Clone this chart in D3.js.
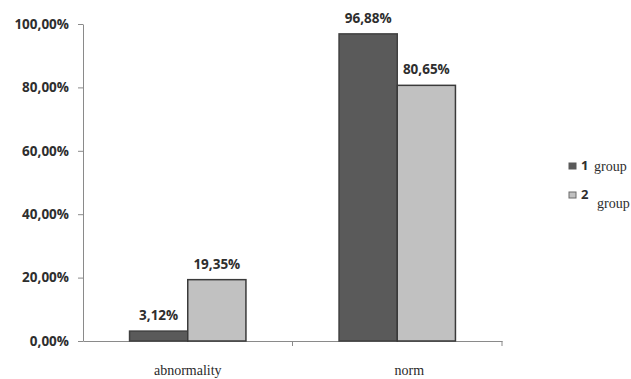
<!DOCTYPE html>
<html>
<head>
<meta charset="utf-8">
<script src="https://cdn.jsdelivr.net/npm/d3@7"></script>
<style>
  html, body { margin: 0; padding: 0; background: #fff; }
  svg { display: block; }
</style>
</head>
<body>
<svg id="chart" width="631" height="379"></svg>
<script>
// Share of children per group in each category (percent)
const categories = ["abnormality", "norm"];
const seriesNames = ["1 group", "2 group"];
const group1 = [3.12, 96.88];
const group2 = [19.35, 80.65];
const yTicks = [0, 20, 40, 60, 80, 100];

const seriesValues = [group1, group2];
const fills = ["#5a5a5a", "#c1c1c1"];
const strokes = ["#404040", "#3a3a3a"];

const svg = d3.select("#chart");
const margin = { left: 83, right: 129, top: 24, bottom: 38 };
const W = 631, H = 379;

const x0 = d3.scaleBand()
  .domain(categories)
  .range([margin.left, W - margin.right])
  .padding(0);

const x1 = d3.scaleBand()
  .domain(d3.range(seriesNames.length))
  .range([0, x0.bandwidth()])
  .paddingInner(0)
  .paddingOuter(0.8);

const y = d3.scaleLinear()
  .domain([0, 100])
  .range([H - margin.bottom, margin.top]);

const fmt = v => v.toFixed(2).replace(".", ",") + "%";
const labelFont = "'Open Sans', sans-serif";
const serifFont = "'Liberation Serif', 'DejaVu Serif', serif";

// Y axis
const yAxis = svg.append("g")
  .attr("transform", `translate(${margin.left},0)`)
  .call(d3.axisLeft(y).tickValues(yTicks).tickSize(5).tickSizeOuter(0).tickFormat(fmt));
yAxis.select(".domain").attr("stroke", "#8a8a8a");
yAxis.selectAll(".tick line").attr("stroke", "#8a8a8a");
yAxis.selectAll(".tick text")
  .attr("x", -14)
  .attr("fill", "#2e2e2e")
  .style("font-family", labelFont)
  .style("font-weight", "bold")
  .style("font-size", "13.5px");

// X axis baseline
const xAxis = svg.append("g")
  .attr("transform", `translate(0,${y(0)})`)
  .call(d3.axisBottom(x0).tickSize(0).tickFormat(""));
xAxis.select(".domain").attr("stroke", "#8a8a8a");
xAxis.selectAll(".tick").remove();

// category separators below the baseline
const edges = categories.slice(1).map(c => x0(c))
  .concat([x0(categories[categories.length - 1]) + x0.bandwidth()]);
svg.append("g").selectAll("line")
  .data(edges)
  .join("line")
  .attr("x1", d => d)
  .attr("x2", d => d)
  .attr("y1", y(0))
  .attr("y2", y(0) + 5)
  .attr("stroke", "#8a8a8a");

// category labels (the short last label sits a little right of its band centre)
const labelShift = [0, 12];
svg.append("g").selectAll("text")
  .data(categories)
  .join("text")
  .attr("x", (d, i) => x0(d) + x0.bandwidth() / 2 + labelShift[i])
  .attr("y", y(0) + 34)
  .attr("text-anchor", "middle")
  .attr("fill", "#2a2a2a")
  .style("font-family", serifFont)
  .style("font-size", "14px")
  .text(d => d);

// bars
const groups = svg.append("g").selectAll("g")
  .data(categories)
  .join("g")
  .attr("transform", d => `translate(${x0(d)},0)`);

groups.selectAll("rect")
  .data((d, ci) => seriesValues.map((s, si) => ({ si, v: s[ci] })))
  .join("rect")
  .attr("x", d => x1(d.si))
  .attr("width", x1.bandwidth())
  .attr("y", d => y(d.v))
  .attr("height", d => y(0) - y(d.v))
  .attr("fill", d => fills[d.si])
  .attr("stroke", d => strokes[d.si])
  .attr("stroke-width", 1.5);

// value labels
groups.selectAll("text")
  .data((d, ci) => seriesValues.map((s, si) => ({ si, v: s[ci] })))
  .join("text")
  .attr("x", d => x1(d.si) + x1.bandwidth() / 2)
  .attr("y", d => y(d.v) - 11)
  .attr("text-anchor", "middle")
  .attr("fill", "#2e2e2e")
  .style("font-family", labelFont)
  .style("font-weight", "bold")
  .style("font-size", "13.5px")
  .text(d => fmt(d.v));

// legend
const legend = svg.append("g").attr("transform", "translate(569,163)");
const items = legend.selectAll("g")
  .data(seriesNames)
  .join("g")
  .attr("transform", (d, i) => `translate(0,${i * 29})`);

items.append("rect")
  .attr("width", 7)
  .attr("height", 6)
  .attr("fill", (d, i) => fills[i])
  .attr("stroke", (d, i) => i === 0 ? fills[0] : "#6a6a6a")
  .attr("stroke-width", 1);

items.append("text")
  .attr("x", 12)
  .attr("y", 7)
  .attr("fill", "#2e2e2e")
  .style("font-family", labelFont)
  .style("font-weight", "bold")
  .style("font-size", "13px")
  .text(d => d.split(" ")[0]);

items.append("text")
  .attr("x", (d, i) => i === 0 ? 25 : 28)
  .attr("y", (d, i) => i === 0 ? 8 : 16)
  .attr("fill", "#2e2e2e")
  .style("font-family", serifFont)
  .style("font-size", "14px")
  .text(d => d.split(" ")[1]);
</script>
</body>
</html>
